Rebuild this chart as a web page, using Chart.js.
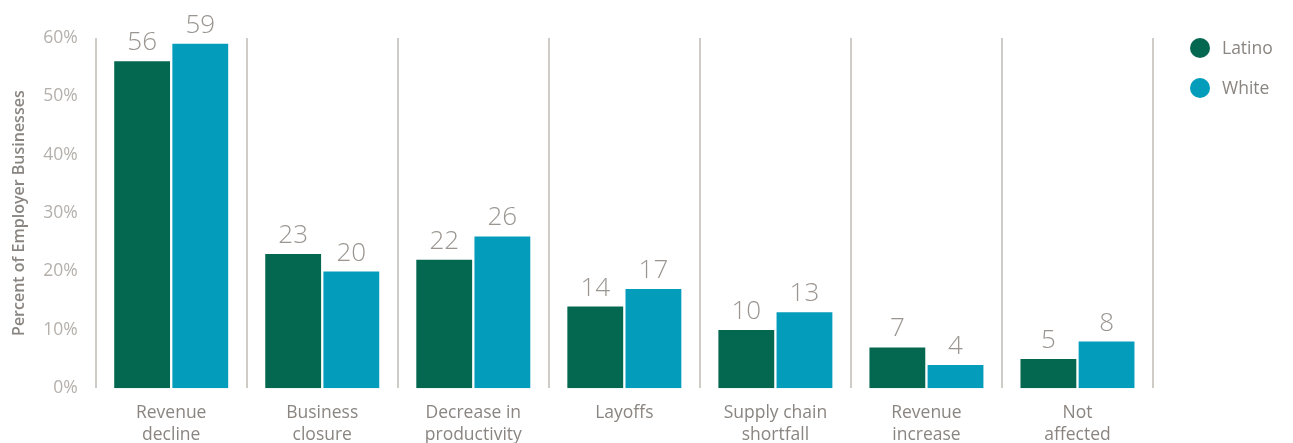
<!DOCTYPE html>
<html>
<head>
<meta charset="utf-8">
<script src="https://cdn.jsdelivr.net/npm/chart.js@4"></script>
<style>
  html, body { margin: 0; padding: 0; background: #fff; }
  #wrap { width: 1293px; height: 443px; }
</style>
</head>
<body>
<div id="wrap"><canvas id="chart"></canvas></div>
<script>
const categories = [
  ['Revenue', 'decline'],
  ['Business', 'closure'],
  ['Decrease in', 'productivity'],
  ['Layoffs'],
  ['Supply chain', 'shortfall'],
  ['Revenue', 'increase'],
  ['Not', 'affected']
];
const latino = [56, 23, 22, 14, 10, 7, 5];
const white = [59, 20, 26, 17, 13, 4, 8];
const yTicks = [0, 10, 20, 30, 40, 50, 60];

// draws the value above each bar
const valueLabels = {
  id: 'valueLabels',
  afterDatasetsDraw(chart) {
    const ctx = chart.ctx;
    ctx.save();
    ctx.font = "300 26px 'Open Sans', sans-serif";
    ctx.fillStyle = '#9a9590';
    ctx.textAlign = 'center';
    ctx.textBaseline = 'alphabetic';
    chart.data.datasets.forEach((ds, i) => {
      chart.getDatasetMeta(i).data.forEach((bar, j) => {
        ctx.fillText(ds.data[j], bar.x, bar.y - 11);
      });
    });
    ctx.restore();
  }
};

// legend drawn by hand to the right of the plot
const sideLegend = {
  id: 'sideLegend',
  afterDraw(chart) {
    const ctx = chart.ctx;
    const x = chart.chartArea.right + 47;
    ctx.save();
    ctx.font = "17.5px 'Open Sans', sans-serif";
    ctx.textBaseline = 'middle';
    chart.data.datasets.forEach((ds, i) => {
      const y = 48 + i * 40;
      ctx.fillStyle = ds.backgroundColor;
      ctx.beginPath();
      ctx.arc(x, y, 10, 0, Math.PI * 2);
      ctx.fill();
      ctx.fillStyle = '#8a8580';
      ctx.fillText(ds.label, x + 22, y + 1);
    });
    ctx.restore();
  }
};

Chart.defaults.font.family = "'Open Sans', sans-serif";

new Chart(document.getElementById('chart').getContext('2d'), {
  type: 'bar',
  data: {
    labels: categories,
    datasets: [{
      label: 'Latino',
      data: latino,
      backgroundColor: '#03684f',
      categoryPercentage: 0.77,
      barPercentage: 0.96
    }, {
      label: 'White',
      data: white,
      backgroundColor: '#039cbb',
      categoryPercentage: 0.77,
      barPercentage: 0.96
    }]
  },
  options: {
    responsive: true,
    maintainAspectRatio: false,
    animation: false,
    layout: {
      padding: { top: 38, right: 140, left: 6, bottom: -17 }
    },
    plugins: {
      legend: { display: false },
      tooltip: { enabled: false }
    },
    scales: {
      y: {
        min: 0,
        max: 60,
        afterBuildTicks: axis => { axis.ticks = yTicks.map(v => ({ value: v })); },
        border: { display: false },
        grid: { display: false },
        ticks: {
          color: '#b5b0ab',
          font: { size: 17.5 },
          padding: 10,
          callback: v => v + '%'
        },
        title: {
          display: true,
          text: 'Percent of Employer Businesses',
          color: '#8a8580',
          font: { size: 16, weight: '600' },
          padding: { bottom: 4 }
        }
      },
      x: {
        border: { display: false },
        grid: {
          display: true,
          offset: true,
          color: '#cfcbc7',
          lineWidth: 2,
          drawTicks: false
        },
        ticks: {
          color: '#8a8580',
          font: { size: 17.5, lineHeight: 1.25 },
          padding: 14,
          maxRotation: 0
        }
      }
    }
  },
  plugins: [valueLabels, sideLegend]
});
</script>
</body>
</html>
